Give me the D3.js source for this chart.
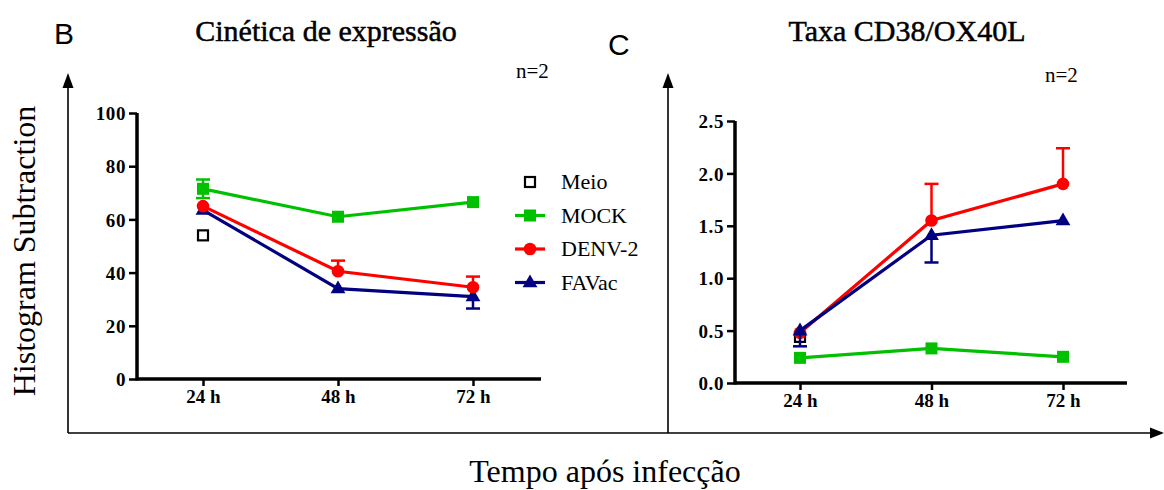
<!DOCTYPE html>
<html>
<head>
<meta charset="utf-8">
<script src="https://cdn.jsdelivr.net/npm/d3@7"></script>
<style>
  body { margin: 0; background: #fff; }
  svg text { font-family: 'Liberation Serif', 'DejaVu Serif', serif; }
  svg text.letter { font-family: 'Liberation Sans', Arial, sans-serif; }
</style>
</head>
<body>
<div id="chart"></div>
<script>
const width = 1164, height = 490;

// categories
const tiempos = ["24 h", "48 h", "72 h"];

// panel B - Cinética de expressão
const meioB = [54];
const mockB = [71.5, 61, 66.5];
const denvB = [65, 40.5, 34.5];
const favacB = [63.5, 34, 31];
const mockBerrUp = [3.5, 0, 0], mockBerrDn = [3.5, 0, 0];
const denvBerrUp = [0, 4, 4], denvBerrDn = [0, 0, 0];
const favacBerrUp = [0, 0, 0], favacBerrDn = [0, 0, 4.5];
const ticksB = [0, 20, 40, 60, 80, 100];

// panel C - Taxa CD38/OX40L
const meioC = [0.44];
const mockC = [0.24, 0.33, 0.25];
const denvC = [0.48, 1.55, 1.90];
const favacC = [0.50, 1.41, 1.55];
const mockCerrUp = [0, 0, 0], mockCerrDn = [0, 0, 0];
const denvCerrUp = [0, 0.35, 0.34], denvCerrDn = [0, 0, 0];
const favacCerrUp = [0, 0, 0], favacCerrDn = [0.15, 0.26, 0];
const ticksC = [0, 0.5, 1.0, 1.5, 2.0, 2.5];

const seriesNames = ["Meio", "MOCK", "DENV-2", "FAVac"];
const colors = { "Meio": "#000", "MOCK": "#00c000", "DENV-2": "#ff0000", "FAVac": "#000080" };

const svg = d3.select('#chart').append('svg')
  .attr('width', width).attr('height', height);

// marker drawing
function drawMarker(g, name, x, y) {
  const c = colors[name];
  if (name === "Meio") {
    g.append("rect").attr("x", x - 5).attr("y", y - 5).attr("width", 10).attr("height", 10)
      .attr("fill", "#fff").attr("stroke", "#000").attr("stroke-width", 2.2);
  } else if (name === "MOCK") {
    g.append("rect").attr("x", x - 6).attr("y", y - 6).attr("width", 12).attr("height", 12)
      .attr("fill", c);
  } else if (name === "DENV-2") {
    g.append("circle").attr("cx", x).attr("cy", y).attr("r", 6.3).attr("fill", c);
  } else {
    g.append("path").attr("d", d3.symbol(d3.symbolTriangle, 95)())
      .attr("transform", "translate(" + x + "," + (y + 0.5) + ")").attr("fill", c);
  }
}

function panel(cfg) {
  const x = d3.scalePoint().domain(tiempos).range(cfg.xr);
  const y = d3.scaleLinear().domain(cfg.ydom).range(cfg.yr);
  const g = svg.append("g");

  // axes
  const yAxis = d3.axisLeft(y).tickValues(cfg.ticks).tickFormat(cfg.fmt).tickSize(8).tickPadding(3);
  const ya = g.append("g").attr("transform", "translate(" + cfg.ax + ",0)").call(yAxis);
  ya.select(".domain").attr("stroke-width", 3.5).attr("d", "M0," + (cfg.yr[0] + 1.5) + "V" + cfg.yr[1]);
  ya.selectAll(".tick line").attr("stroke-width", 2.5);
  ya.selectAll("text").attr("font-size", 19).attr("font-weight", "bold")
    .attr("letter-spacing", 0.6).attr("dy", "0.35em");

  const xAxis = d3.axisBottom(x).tickSize(7).tickPadding(4);
  const xa = g.append("g").attr("transform", "translate(0," + cfg.yr[0] + ")").call(xAxis);
  xa.select(".domain").attr("stroke-width", 3.5).attr("d", "M" + cfg.ax + ",0H" + cfg.xend);
  xa.selectAll(".tick line").attr("stroke-width", 2.5);
  xa.selectAll("text").attr("font-size", 19).attr("font-weight", "bold");

  const line = d3.line().x((d, i) => x(tiempos[i])).y(d => y(d));

  cfg.series.forEach(s => {
    const c = colors[s.name];
    // error bars
    s.values.forEach((v, i) => {
      const cx = x(tiempos[i]);
      [[s.up ? s.up[i] : 0, 1], [s.dn ? s.dn[i] : 0, -1]].forEach(([e, dir]) => {
        if (!e) return;
        const ye = y(v + dir * e);
        g.append("line").attr("x1", cx).attr("x2", cx).attr("y1", y(v)).attr("y2", ye)
          .attr("stroke", c).attr("stroke-width", 2.5);
        g.append("line").attr("x1", cx - 7).attr("x2", cx + 7).attr("y1", ye).attr("y2", ye)
          .attr("stroke", c).attr("stroke-width", 2.5);
      });
    });
    if (s.values.length > 1) {
      g.append("path").datum(s.values).attr("d", line)
        .attr("fill", "none").attr("stroke", c).attr("stroke-width", 3.2);
    }
    s.values.forEach((v, i) => drawMarker(g, s.name, x(tiempos[i]), y(v)));
  });

  svg.append("text").attr("x", cfg.titleX).attr("y", 41).attr("text-anchor", "middle")
    .attr("font-size", 30).attr("stroke", "#000").attr("stroke-width", 0.5)
    .text(cfg.title);
  svg.append("text").attr("x", cfg.nX).attr("y", cfg.nY).attr("font-size", 21).text("n=2");
}

panel({
  title: "Cinética de expressão", titleX: 326, nX: 516, nY: 78,
  xr: [203, 473], yr: [379, 113], ydom: [0, 100], ax: 137, xend: 541,
  ticks: ticksB, fmt: d3.format("d"),
  series: [
    { name: "FAVac", values: favacB, up: favacBerrUp, dn: favacBerrDn },
    { name: "DENV-2", values: denvB, up: denvBerrUp, dn: denvBerrDn },
    { name: "MOCK", values: mockB, up: mockBerrUp, dn: mockBerrDn },
    { name: "Meio", values: meioB }
  ]
});

panel({
  title: "Taxa CD38/OX40L", titleX: 907, nX: 1045, nY: 82,
  xr: [800, 1063], yr: [383, 121], ydom: [0, 2.5], ax: 735, xend: 1127,
  ticks: ticksC, fmt: d3.format(".1f"),
  series: [
    { name: "Meio", values: meioC },
    { name: "MOCK", values: mockC, up: mockCerrUp, dn: mockCerrDn },
    { name: "DENV-2", values: denvC, up: denvCerrUp, dn: denvCerrDn },
    { name: "FAVac", values: favacC, up: favacCerrUp, dn: favacCerrDn }
  ]
});

// legend
const lg = svg.append("g");
seriesNames.forEach((n, i) => {
  const ly = 182 + i * 33.5;
  if (n !== "Meio") {
    lg.append("line").attr("x1", 515).attr("x2", 545).attr("y1", ly).attr("y2", ly)
      .attr("stroke", colors[n]).attr("stroke-width", 3.2);
  }
  drawMarker(lg, n, 530, ly);
  lg.append("text").attr("x", 561).attr("y", ly + 7).attr("font-size", 22).text(n);
});

// outer frame with arrows
const frame = svg.append("g").attr("stroke", "#000").attr("stroke-width", 1.6);
frame.append("line").attr("x1", 68).attr("x2", 68).attr("y1", 84).attr("y2", 433);
frame.append("line").attr("x1", 668).attr("x2", 668).attr("y1", 84).attr("y2", 433);
frame.append("line").attr("x1", 68).attr("x2", 1152).attr("y1", 433).attr("y2", 433);
[[68, 73], [668, 73]].forEach(([ax, ay]) => {
  svg.append("path").attr("d", "M" + ax + "," + ay + "L" + (ax - 5.5) + "," + (ay + 15) + "L" + (ax + 5.5) + "," + (ay + 15) + "Z");
});
svg.append("path").attr("d", "M1164,433L1150,427.5L1150,438.5Z");

// panel letters
svg.append("text").attr("class", "letter").attr("x", 54).attr("y", 44).attr("font-size", 30).text("B");
svg.append("text").attr("class", "letter").attr("x", 608).attr("y", 55).attr("font-size", 30).text("C");

// axis titles
svg.append("text").attr("transform", "translate(35,251) rotate(-90)")
  .attr("text-anchor", "middle").attr("font-size", 32).text("Histogram Subtraction");
svg.append("text").attr("x", 605).attr("y", 482).attr("text-anchor", "middle")
  .attr("font-size", 32).text("Tempo após infecção");
</script>
</body>
</html>
